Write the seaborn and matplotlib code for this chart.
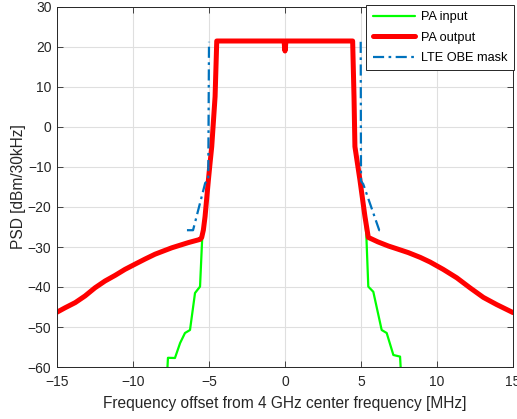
import numpy as np
import pandas as pd
import matplotlib
matplotlib.use("Agg")
import matplotlib.pyplot as plt
import seaborn as sns

# ---- data ----
out_freq = [-15.0, -14.47, -13.8, -13.16, -12.5, -11.84, -11.18, -10.53, -9.87, -9.2,
            -8.55, -7.45, -6.36, -5.59, -5.48,
            -5.37, -5.26, -5.04, -4.93, -4.82, -4.6, -4.49, -0.06, -0.03, 0.0, 0.03, 0.06,
            4.45, 4.54, 4.6, 4.93, 5.26, 5.48, 6.1, 6.8, 7.4, 8.11, 8.9, 9.54, 10.41, 11.3,
            12.17, 13.05, 13.93, 15.0]
out_psd = [-46.3, -45.2, -43.9, -42.25, -40.2, -38.5, -37.1, -35.6, -34.3, -33.0,
           -31.8, -30.2, -28.9, -28.1, -27.6,
           -25.75, -22.4, -13.25, -9.0, -4.9, 7.6, 21.5, 21.5, 20.0, 19.0, 20.0, 21.5,
           21.5, 7.6, -4.9, -13.25, -22.4, -27.6, -28.7, -29.75, -30.5, -31.4, -32.6, -33.75,
           -35.6, -37.7, -40.2, -42.6, -44.4, -46.4]

in_freq = [-7.8, -7.7, -7.24, -6.9, -6.58, -6.25, -5.92, -5.59, -5.45, -5.37, -5.26, -5.04,
           -4.93, -4.82, -4.6, -4.49, -0.06, -0.03, 0.0, 0.03, 0.06, 4.45, 4.54, 4.6, 4.93,
           5.26, 5.35, 5.48, 5.81, 6.36, 6.69, 7.13, 7.57, 7.68]
in_psd = [-65.0, -57.7, -57.75, -54.0, -51.5, -50.75, -41.5, -39.9, -28.0, -25.75, -22.4, -13.25,
          -9.0, -4.9, 7.6, 21.5, 21.5, 20.0, 19.0, 20.0, 21.5, 21.5, 7.6, -4.9, -13.25,
          -22.4, -27.0, -39.9, -41.2, -50.75, -51.5, -57.0, -57.4, -65.0]

mask_side = ['lower'] * 5 + ['upper'] * 5
mask_freq = [-6.45, -6.05, -5.25, -5.05, -5.0, 4.98, 5.0, 5.15, 6.2, 6.32]
mask_psd = [-25.8, -25.8, -14.0, -13.3, 21.3, 21.3, -13.5, -14.3, -25.8, -25.8]

xticks = [-15, -10, -5, 0, 5, 10, 15]
yticks = [-60, -50, -40, -30, -20, -10, 0, 10, 20, 30]

# ---- style ----
sns.set_theme(style="white")
plt.rcParams['font.family'] = ['Liberation Sans', 'DejaVu Sans']
txt = '#262626'

fig = plt.figure(figsize=(5.17, 4.19), dpi=100)
ax = fig.add_axes([57/517, 52/419, (513-57)/517, (367-7)/419])

sns.lineplot(x=in_freq, y=in_psd, ax=ax, color='#00ff00', linewidth=1.6,
             sort=False, estimator=None, label='PA input')
sns.lineplot(x=out_freq, y=out_psd, ax=ax, color='#ff0000', linewidth=3.6,
             sort=False, estimator=None, label='PA output')
mask_df = pd.DataFrame({'f': mask_freq, 'p': mask_psd, 'side': mask_side})
sns.lineplot(data=mask_df, x='f', y='p', units='side', ax=ax, color='#0072bd',
             linewidth=1.6, sort=False, estimator=None, linestyle='-.')
mask_lines = ax.get_lines()[2:]
for l in mask_lines:
    l.set_dashes([5, 2, 1.2, 2])

ax.set_xlim(-15, 15)
ax.set_ylim(-60, 30)
ax.set_xticks(xticks)
ax.set_yticks(yticks)
ax.grid(True, color='#dfdfdf', linewidth=0.8)
ax.set_axisbelow(True)
for s in ax.spines.values():
    s.set_color(txt)
    s.set_linewidth(0.7)
    s.set_visible(True)
ax.tick_params(direction='in', length=4, width=0.6, color=txt, labelcolor=txt,
               labelsize=10, top=True, right=True, bottom=True, left=True)
ax.tick_params(axis='x', pad=6)
ax.tick_params(axis='y', pad=4)
ax.set_xlabel('Frequency offset from 4 GHz center frequency [MHz]', fontsize=11.2, color=txt, labelpad=5)
ax.set_ylabel('PSD [dBm/30kHz]', fontsize=11.2, color=txt, labelpad=1)

if ax.get_legend() is not None:
    ax.get_legend().remove()
lines = ax.get_lines()
h = [lines[0], lines[1], mask_lines[0]]
lab = ['PA input', 'PA output', 'LTE OBE mask']
leg = fig.legend(h, lab, loc='upper right', bbox_to_anchor=(514/517, 1-5/419),
                 borderaxespad=0, fontsize=9.2, frameon=True, fancybox=False,
                 framealpha=1, edgecolor=txt, handlelength=3.3, handletextpad=0.5,
                 labelspacing=0.65, borderpad=0.5)
leg.get_frame().set_linewidth(0.7)
for t in leg.get_texts():
    t.set_color('black')

fig.savefig('out.png', dpi=100)
